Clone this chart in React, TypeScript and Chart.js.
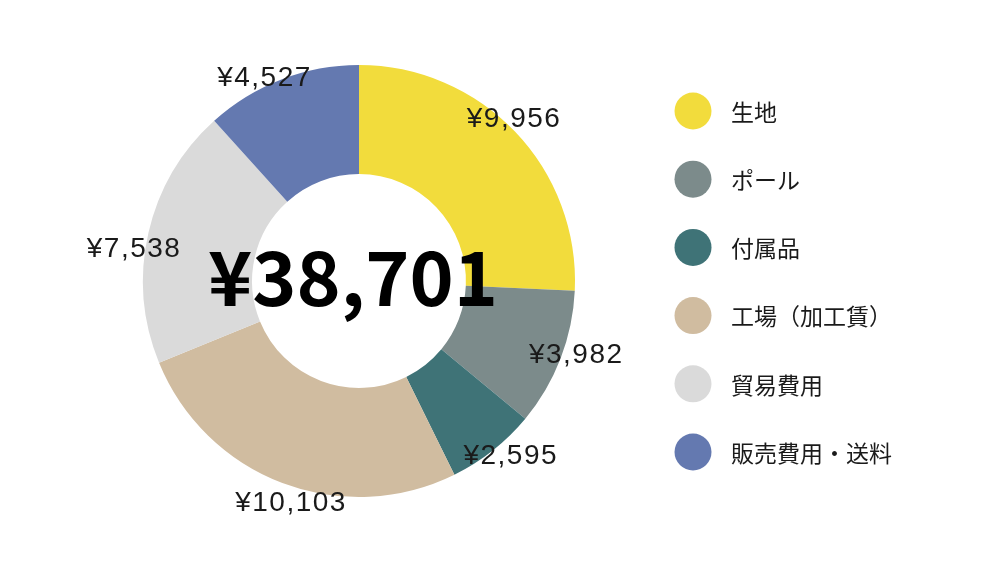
import { useEffect, useRef } from "react";
import { Chart, registerables } from "chart.js";

Chart.register(...registerables);

// cost breakdown (yen)
const categories = ["生地", "ポール", "付属品", "工場（加工賃）", "貿易費用", "販売費用・送料"];
const costValues = [9956, 3982, 2595, 10103, 7538, 4527];
const sliceColors = ["#F2DC3C", "#7C8B8B", "#3F7377", "#D0BCA0", "#DADADA", "#6479B0"];

const yen = (v: number) => "¥" + v.toLocaleString("en-US");

// draws the total in the hole, the value labels round the ring and the legend
const extrasPlugin = {
  id: "extras",
  afterDraw(chart: any) {
    const ctx = chart.ctx as CanvasRenderingContext2D;
    const meta = chart.getDatasetMeta(0);
    const first = meta.data[0];
    if (!first) return;
    const cx = first.x;
    const cy = first.y;
    const outer = first.outerRadius;

    // total in the middle
    const total = costValues.reduce((a, b) => a + b, 0);
    ctx.save();
    ctx.fillStyle = "#000";
    ctx.textAlign = "center";
    ctx.textBaseline = "middle";
    ctx.font = "bold 75px 'Noto Sans CJK JP'";
    ctx.fillText(yen(total), cx - 6, cy - 4);

    // value labels just outside the ring, a touch before each slice's middle
    ctx.font = "28px 'Liberation Sans'";
    (ctx as any).letterSpacing = "1.5px";
    ctx.fillStyle = "#1a1a1a";
    meta.data.forEach((arc: any, i: number) => {
      const mid = (arc.startAngle + arc.endAngle) / 2 - 0.06;
      const r = outer + 12;
      const x = cx + Math.cos(mid) * r;
      const y = cy + Math.sin(mid) * r + 5;
      ctx.fillText(yen(costValues[i]), x, y);
    });
    (ctx as any).letterSpacing = "0px";

    // legend
    const lx = 693;
    const ly = 111;
    const step = 68.2;
    ctx.textAlign = "left";
    ctx.font = "23px 'Noto Sans CJK JP'";
    categories.forEach((name, i) => {
      const y = ly + i * step;
      ctx.beginPath();
      ctx.arc(lx, y, 18.5, 0, Math.PI * 2);
      ctx.fillStyle = sliceColors[i];
      ctx.fill();
      ctx.fillStyle = "#1a1a1a";
      ctx.fillText(name, lx + 38, y + 1);
    });
    ctx.restore();
  },
};

const CostDoughnut = () => {
  const canvasRef = useRef<HTMLCanvasElement | null>(null);

  useEffect(() => {
    document.body.style.margin = "0";
    if (!canvasRef.current) return;
    const chart = new Chart(canvasRef.current, {
      type: "doughnut",
      data: {
        labels: categories,
        datasets: [
          {
            data: costValues,
            backgroundColor: sliceColors,
            borderWidth: 0,
          },
        ],
      },
      options: {
        responsive: false,
        animation: false,
        cutout: "49.5%",
        layout: { padding: { left: 143, right: 425, top: 65, bottom: 66 } },
        plugins: {
          legend: { display: false },
          tooltip: { enabled: false },
        },
      },
      plugins: [extrasPlugin],
    });
    return () => {
      chart.destroy();
    };
  }, []);

  return <canvas ref={canvasRef} width={1000} height={563}></canvas>;
};

export default function App() {
  return (
    <div style={{ width: 1000, height: 563, background: "#fff" }}>
      <CostDoughnut />
    </div>
  );
}
